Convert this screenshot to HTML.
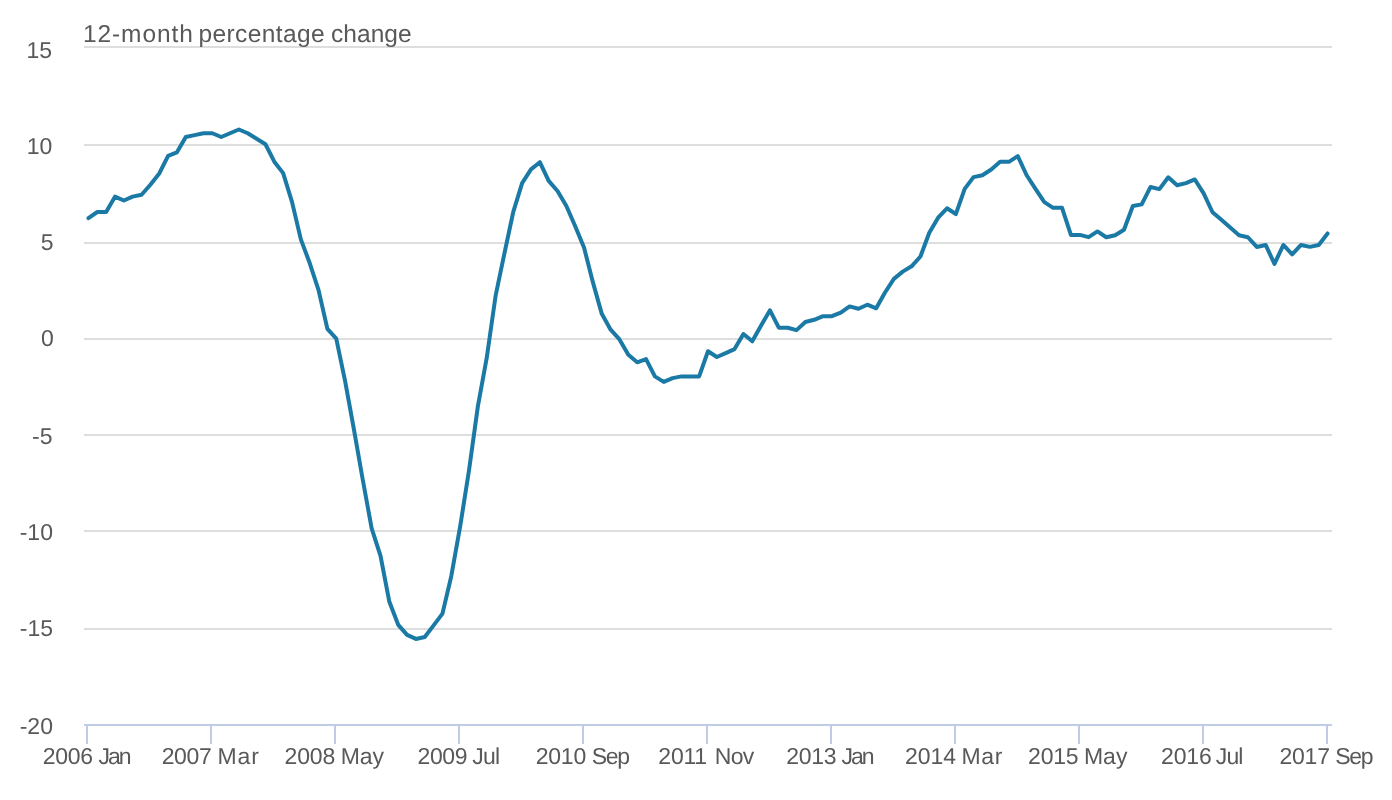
<!DOCTYPE html>
<html lang="en"><head><meta charset="utf-8"><title>12-month percentage change</title>
<style>html,body{margin:0;padding:0;background:#fff}body{width:1392px;height:800px;overflow:hidden}svg{display:block;will-change:transform}text{text-rendering:geometricPrecision;font-family:"Liberation Sans",sans-serif;fill:#595959}</style></head><body>
<svg width="1392" height="800" viewBox="0 0 1392 800">
<rect x="0" y="0" width="1392" height="800" fill="#ffffff"/>
<g fill="#dedede">
<rect x="84" y="46" width="1248" height="2"/>
<rect x="84" y="144" width="1248" height="2"/>
<rect x="84" y="242" width="1248" height="2"/>
<rect x="84" y="338" width="1248" height="2"/>
<rect x="84" y="434" width="1248" height="2"/>
<rect x="84" y="530" width="1248" height="2"/>
<rect x="84" y="628" width="1248" height="2"/>
</g>
<g fill="#c0cbe6">
<rect x="84" y="724" width="1248" height="2"/>
<rect x="86" y="724" width="2" height="20"/>
<rect x="210" y="724" width="2" height="20"/>
<rect x="334" y="724" width="2" height="20"/>
<rect x="458" y="724" width="2" height="20"/>
<rect x="582" y="724" width="2" height="20"/>
<rect x="706" y="724" width="2" height="20"/>
<rect x="830" y="724" width="2" height="20"/>
<rect x="954" y="724" width="2" height="20"/>
<rect x="1078" y="724" width="2" height="20"/>
<rect x="1202" y="724" width="2" height="20"/>
<rect x="1326" y="724" width="2" height="20"/>
</g>
<text y="41.90" font-size="24.5"><tspan x="82.93" textLength="109.98" lengthAdjust="spacing">12-month</tspan> <tspan x="198.53" textLength="126.02" lengthAdjust="spacing">percentage</tspan> <tspan x="331.02" textLength="80.64" lengthAdjust="spacing">change</tspan></text>
<text x="52.04" y="57.80" font-size="23" text-anchor="end">15</text>
<text x="52.23" y="153.80" font-size="23" text-anchor="end">10</text>
<text x="53.46" y="249.80" font-size="23" text-anchor="end">5</text>
<text x="53.73" y="345.80" font-size="23" text-anchor="end">0</text>
<text x="52.46" y="443.80" font-size="23" text-anchor="end">-5</text>
<text x="52.94" y="539.80" font-size="23" text-anchor="end">-10</text>
<text x="53.04" y="635.80" font-size="23" text-anchor="end">-15</text>
<text x="52.96" y="733.80" font-size="23" text-anchor="end">-20</text>
<text y="764.00" font-size="23"><tspan x="42.64" textLength="50.46" lengthAdjust="spacing">2006</tspan> <tspan x="98.44" textLength="33.09" lengthAdjust="spacing">Jan</tspan></text>
<text y="764.00" font-size="23"><tspan x="161.64" textLength="50.17" lengthAdjust="spacing">2007</tspan> <tspan x="217.43" textLength="41.48" lengthAdjust="spacing">Mar</tspan></text>
<text y="764.00" font-size="23"><tspan x="284.54" textLength="50.69" lengthAdjust="spacing">2008</tspan> <tspan x="340.75" textLength="43.29" lengthAdjust="spacing">May</tspan></text>
<text y="764.00" font-size="23"><tspan x="417.54" textLength="50.02" lengthAdjust="spacing">2009</tspan> <tspan x="472.19" textLength="27.88" lengthAdjust="spacing">Jul</tspan></text>
<text y="764.00" font-size="23"><tspan x="535.64" textLength="50.62" lengthAdjust="spacing">2010</tspan> <tspan x="591.86" textLength="38.22" lengthAdjust="spacing">Sep</tspan></text>
<text y="764.00" font-size="23"><tspan x="658.35" textLength="48.80" lengthAdjust="spacing">2011</tspan> <tspan x="714.75" textLength="39.59" lengthAdjust="spacing">Nov</tspan></text>
<text y="764.00" font-size="23"><tspan x="786.18" textLength="50.49" lengthAdjust="spacing">2013</tspan> <tspan x="841.39" textLength="33.28" lengthAdjust="spacing">Jan</tspan></text>
<text y="764.00" font-size="23"><tspan x="905.09" textLength="50.88" lengthAdjust="spacing">2014</tspan> <tspan x="961.43" textLength="41.05" lengthAdjust="spacing">Mar</tspan></text>
<text y="764.00" font-size="23"><tspan x="1028.09" textLength="50.50" lengthAdjust="spacing">2015</tspan> <tspan x="1083.94" textLength="43.46" lengthAdjust="spacing">May</tspan></text>
<text y="764.00" font-size="23"><tspan x="1161.09" textLength="50.61" lengthAdjust="spacing">2016</tspan> <tspan x="1215.87" textLength="27.51" lengthAdjust="spacing">Jul</tspan></text>
<text y="764.00" font-size="23"><tspan x="1279.38" textLength="50.64" lengthAdjust="spacing">2017</tspan> <tspan x="1335.27" textLength="38.20" lengthAdjust="spacing">Sep</tspan></text>
<polyline points="88.43,218.06 97.28,212.02 106.13,212.02 114.98,196.64 123.83,200.51 132.68,196.64 141.53,194.76 150.38,184.70 159.23,173.49 168.09,155.94 176.94,152.35 185.79,136.97 194.64,135.09 203.49,133.23 212.34,133.23 221.19,136.97 230.04,133.23 238.89,129.50 247.74,133.23 256.60,138.70 265.45,144.28 274.30,161.67 283.15,173.14 292.00,201.89 300.85,239.39 309.70,263.02 318.55,290.14 327.40,328.89 336.26,338.57 345.11,381.19 353.96,429.62 362.81,479.98 371.66,528.41 380.51,555.82 389.36,601.83 398.21,624.82 407.06,634.90 415.91,638.93 424.77,637.05 433.62,625.40 442.47,613.61 451.32,575.95 460.17,526.47 469.02,470.30 477.87,406.37 486.72,357.94 495.57,295.95 504.43,253.34 513.28,211.82 522.13,183.08 530.98,169.42 539.83,162.21 548.68,180.91 557.53,190.98 566.38,206.07 575.23,226.20 584.09,247.78 592.94,282.39 601.79,313.85 610.64,329.66 619.49,339.44 628.34,354.82 637.19,362.30 646.04,359.14 654.89,376.40 663.74,381.87 672.60,378.13 681.45,376.40 690.30,376.40 699.15,376.40 708.00,351.24 716.85,356.99 725.70,353.10 734.55,349.07 743.40,333.98 752.26,341.26 761.11,325.55 769.96,310.35 778.81,327.70 787.66,327.70 796.51,330.14 805.36,321.95 814.21,319.80 823.06,316.20 831.91,316.20 840.77,312.61 849.62,306.43 858.47,308.72 867.32,304.71 876.17,308.29 885.02,292.49 893.87,278.83 902.72,271.62 911.57,266.32 920.43,256.53 929.28,232.75 938.13,217.64 946.98,208.30 955.83,214.05 964.68,188.89 973.53,177.09 982.38,175.23 991.23,169.48 1000.09,161.85 1008.94,161.85 1017.79,156.11 1026.64,175.23 1035.49,188.89 1044.34,202.12 1053.19,207.87 1062.04,207.87 1070.89,234.90 1079.74,234.90 1088.60,237.16 1097.45,231.41 1106.30,237.28 1115.15,235.26 1124.00,229.80 1132.85,206.07 1141.70,204.35 1150.55,186.95 1159.40,189.10 1168.26,177.32 1177.11,185.23 1185.96,183.08 1194.81,179.47 1203.66,193.40 1212.51,212.23 1221.36,219.84 1230.21,227.55 1239.06,235.30 1247.91,237.26 1256.77,246.96 1265.62,244.95 1274.47,263.86 1283.32,244.99 1292.17,254.34 1301.02,244.99 1309.87,246.87 1318.72,244.99 1327.57,233.48" fill="none" stroke="#1b7aa5" stroke-width="4" stroke-linejoin="round" stroke-linecap="round"/>
</svg></body></html>
